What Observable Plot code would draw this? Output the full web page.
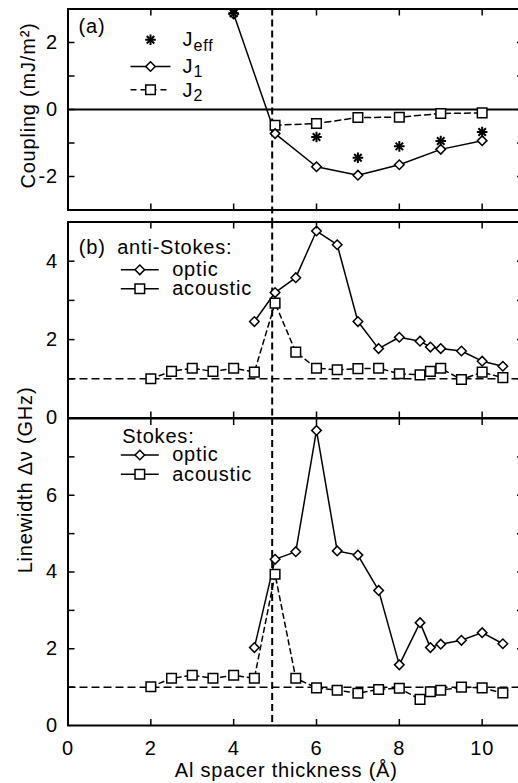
<!DOCTYPE html>
<html><head><meta charset="utf-8">
<script src="https://cdn.jsdelivr.net/npm/d3@7"></script>
<script src="https://cdn.jsdelivr.net/npm/@observablehq/plot@0.6"></script>
<style>
html,body{margin:0;padding:0;background:#fff;}
#chart{position:relative;width:518px;height:783px;overflow:hidden;background:#fff;}
#chart svg{position:absolute;left:0;overflow:visible;}
#chart svg text{letter-spacing:0.8px;}
</style></head><body><div id="chart"></div>
<script>
// ---------- data ----------
const X_DOMAIN = [0, 10.95];
const X_TICKS = [2, 4, 6, 8, 10];
const X_LABELS = [0, 2, 4, 6, 8, 10];
const V_LINE = [4.93];
const REF_LINE = [1];

// (a) coupling
const A_X_J1 = [4, 5, 6, 7, 8, 9, 10];
const A_J1 = [2.85, -0.72, -1.71, -1.96, -1.65, -1.19, -0.93];
const A_X_J2 = [5, 6, 7, 8, 9, 10];
const A_J2 = [-0.47, -0.42, -0.24, -0.23, -0.12, -0.10];
const A_X_JEFF = [4, 6, 7, 8, 9, 10];
const A_JEFF = [2.87, -0.82, -1.44, -1.10, -0.94, -0.67];
const A_Y_DOMAIN = [-3, 3];
const A_Y_TICKS = [-2, -1, 0, 1, 2];
const A_Y_LABELS = [-2, 0, 2];

// (b) anti-Stokes
const B_X_OPTIC = [4.5, 5, 5.5, 6, 6.5, 7, 7.5, 8, 8.5, 8.75, 9, 9.5, 10, 10.5];
const B_OPTIC = [2.46, 3.20, 3.58, 4.77, 4.42, 2.46, 1.77, 2.06, 1.96, 1.81, 1.77, 1.71, 1.45, 1.32];
const B_X_ACOUSTIC = [2, 2.5, 3, 3.5, 4, 4.5, 5, 5.5, 6, 6.5, 7, 7.5, 8, 8.5, 8.75, 9, 9.5, 10, 10.5];
const B_ACOUSTIC = [1.00, 1.19, 1.27, 1.19, 1.27, 1.17, 2.93, 1.68, 1.27, 1.23, 1.26, 1.27, 1.13, 1.10, 1.19, 1.27, 0.98, 1.17, 1.03];
const B_Y_DOMAIN = [0, 5];
const B_Y_TICKS = [1, 2, 3, 4];
const B_Y_LABELS = [0, 2, 4];

// (b) Stokes
const C_X_OPTIC = [4.5, 5, 5.5, 6, 6.5, 7, 7.5, 8, 8.5, 8.75, 9, 9.5, 10, 10.5];
const C_OPTIC = [2.03, 4.33, 4.53, 7.69, 4.55, 4.44, 3.52, 1.58, 2.68, 2.03, 2.12, 2.22, 2.42, 2.13];
const C_X_ACOUSTIC = [2, 2.5, 3, 3.5, 4, 4.5, 5, 5.5, 6, 6.5, 7, 7.5, 8, 8.5, 8.75, 9, 9.5, 10, 10.5];
const C_ACOUSTIC = [1.01, 1.23, 1.31, 1.23, 1.31, 1.23, 3.94, 1.23, 0.98, 0.92, 0.84, 0.94, 0.97, 0.68, 0.88, 0.92, 1.00, 0.98, 0.85];
const C_Y_DOMAIN = [0, 8];
const C_Y_TICKS = [1, 2, 3, 4, 5, 6, 7];
const C_Y_LABELS = [0, 2, 4, 6];

const X_TITLE = "Al spacer thickness (Å)";
const A_Y_TITLE = "Coupling (mJ/m²)";
const BC_Y_TITLE = "Linewidth Δν (GHz)";

// ---------- helpers ----------
const FONT = "'Liberation Sans', Arial, Helvetica, sans-serif";
const W = 521, ML = 67.5;
const rows = (xs, ys) => xs.map((x, i) => ({x, y: ys[i]}));
const hline = {draw(ctx, size) { const r = Math.sqrt(size / Math.PI); ctx.moveTo(-r, 0); ctx.lineTo(r, 0); }};
const DIAMOND = {symbol: "diamond2", r: 4.3, fill: "white", stroke: "black", strokeWidth: 1.5};
const SQUARE = {symbol: "square", r: 5.4, fill: "white", stroke: "black", strokeWidth: 1.5};

function axes(yTicks, yLabels) {
  return [
    Plot.axisY(yTicks, {anchor: "left", tickSize: -7, tickFormat: () => "", label: null, strokeWidth: 1.5}),
    Plot.axisY(yTicks, {anchor: "right", tickSize: -5, tickFormat: () => "", label: null, strokeWidth: 1.5}),
    Plot.axisY(yLabels, {anchor: "left", tickSize: 0, tickPadding: 10, tickFormat: d => String(d), label: null, fontSize: 20}),
    Plot.axisX(X_TICKS, {anchor: "top", tickSize: -6, tickFormat: () => "", label: null, strokeWidth: 1.5}),
    Plot.axisX(X_TICKS, {anchor: "bottom", tickSize: -6, tickFormat: () => "", label: null, strokeWidth: 1.5}),
    Plot.frame({strokeWidth: 2})
  ];
}
function ltext(str, dx, dy, extra = {}) {
  return Plot.text([str], {frameAnchor: "top-left", dx, dy, textAnchor: "start", lineAnchor: "middle", fontSize: 20, ...extra});
}
function lsym(opts, dx, dy) {
  return Plot.dot([0], {frameAnchor: "top-left", dx, dy, ...opts});
}
function legendRow(kind, dashed, label, dy) {
  return [
    lsym({symbol: hline, r: 19, fill: "none", stroke: "black", strokeWidth: 1.5, strokeDasharray: dashed ? "5,4" : null}, 71.8, dy),
    lsym(kind, 71.8, dy),
    ltext(label, 104.2, dy)
  ];
}
function base(height, mt, mb, ydom, marks) {
  return Plot.plot({
    width: W, height, marginLeft: ML, marginRight: 0, marginTop: mt, marginBottom: mb,
    x: {domain: X_DOMAIN, axis: null},
    y: {domain: ydom, axis: null},
    style: {fontFamily: FONT, fontSize: "20px", background: "transparent", overflow: "visible", maxWidth: "none", color: "black"},
    marks
  });
}

// ---------- panel (a) ----------
const J1 = rows(A_X_J1, A_J1), J2 = rows(A_X_J2, A_J2), JE = rows(A_X_JEFF, A_JEFF);
const pa = base(212, 8.5, 2.5, A_Y_DOMAIN, [
  Plot.ruleY([0], {strokeWidth: 2}),
  Plot.ruleX(V_LINE, {stroke: "black", strokeWidth: 2, strokeDasharray: "7,4", insetBottom: -12}),
  Plot.line(J2, {x: "x", y: "y", strokeWidth: 1.5, strokeDasharray: "6,4"}),
  Plot.line(J1, {x: "x", y: "y", strokeWidth: 1.5}),
  Plot.dot(J2, {x: "x", y: "y", ...SQUARE}),
  Plot.dot(J1, {x: "x", y: "y", ...DIAMOND}),
  Plot.dot(JE, {x: "x", y: "y", symbol: "plus", r: 3.5, stroke: "black", strokeWidth: 2}),
  Plot.dot(JE, {x: "x", y: "y", symbol: "times", r: 3.5, stroke: "black", strokeWidth: 2}),
  ...axes(A_Y_TICKS, A_Y_LABELS),
  Plot.text([A_Y_TITLE], {frameAnchor: "left", rotate: -90, textAnchor: "middle", lineAnchor: "top", dx: -47.5, dy: -4, fontSize: 20}),
  ltext("(a)", 10.5, 17.5),
  lsym({symbol: "plus", r: 3.5, stroke: "black", strokeWidth: 2}, 82.5, 30.8),
  lsym({symbol: "times", r: 3.5, stroke: "black", strokeWidth: 2}, 82.5, 30.8),
  ltext("J", 114.5, 30.8),
  ltext("eff", 125.5, 42.2, {lineAnchor: "bottom", fontSize: 16}),
  lsym({symbol: hline, r: 20, fill: "none", stroke: "black", strokeWidth: 1.5}, 82.5, 57.5),
  lsym(DIAMOND, 82.5, 57.5),
  ltext("J", 114.5, 58),
  ltext("1", 125.5, 68.4, {lineAnchor: "bottom", fontSize: 16}),
  lsym({symbol: hline, r: 20, fill: "none", stroke: "black", strokeWidth: 1.5, strokeDasharray: "6,4"}, 82.5, 80.8),
  lsym(SQUARE, 82.5, 80.8),
  ltext("J", 114.5, 81.5),
  ltext("2", 125.5, 91.9, {lineAnchor: "bottom", fontSize: 16})
]);

// ---------- panel (b) anti-Stokes ----------
const BO = rows(B_X_OPTIC, B_OPTIC), BA = rows(B_X_ACOUSTIC, B_ACOUSTIC);
const pb = base(205.5, 9.5, 0, B_Y_DOMAIN, [
  Plot.ruleY(REF_LINE, {strokeWidth: 1.5, strokeDasharray: "8,4"}),
  Plot.ruleX(V_LINE, {stroke: "black", strokeWidth: 2, strokeDasharray: "7,4"}),
  Plot.line(BA, {x: "x", y: "y", strokeWidth: 1.5, strokeDasharray: "5,4"}),
  Plot.line(BO, {x: "x", y: "y", strokeWidth: 1.5}),
  Plot.dot(BA, {x: "x", y: "y", ...SQUARE}),
  Plot.dot(BO, {x: "x", y: "y", ...DIAMOND}),
  ...axes(B_Y_TICKS, B_Y_LABELS),
  ltext("(b)", 10.8, 25.8),
  ltext("anti-Stokes:", 49.2, 25.8),
  ...legendRow(DIAMOND, false, "optic", 47.8),
  ...legendRow(SQUARE, false, "acoustic", 66.8)
]);

// ---------- panel (b) Stokes ----------
const CO = rows(C_X_OPTIC, C_OPTIC), CA = rows(C_X_ACOUSTIC, C_ACOUSTIC);
const pc = base(365.5, 0, 58.5, C_Y_DOMAIN, [
  Plot.ruleY(REF_LINE, {strokeWidth: 1.5, strokeDasharray: "8,4"}),
  Plot.ruleX(V_LINE, {stroke: "black", strokeWidth: 2, strokeDasharray: "7,4"}),
  Plot.line(CA, {x: "x", y: "y", strokeWidth: 1.5, strokeDasharray: "5,4"}),
  Plot.line(CO, {x: "x", y: "y", strokeWidth: 1.5}),
  Plot.dot(CA, {x: "x", y: "y", ...SQUARE}),
  Plot.dot(CO, {x: "x", y: "y", ...DIAMOND}),
  ...axes(C_Y_TICKS, C_Y_LABELS),
  Plot.axisX(X_LABELS, {anchor: "bottom", tickSize: 0, tickPadding: 15.5, tickFormat: d => String(d), label: null, fontSize: 20}),
  Plot.text([X_TITLE], {frameAnchor: "bottom", lineAnchor: "bottom", dx: -8.5, dy: 51.5, fontSize: 20}),
  Plot.text([BC_Y_TITLE], {frameAnchor: "top-left", rotate: -90, textAnchor: "middle", lineAnchor: "top", dx: -50, dy: 61.5, fontSize: 20}),
  ltext("Stokes:", 54.2, 17.7),
  ...legendRow(DIAMOND, false, "optic", 36.5),
  ...legendRow(SQUARE, false, "acoustic", 55.8)
]);

const chart = document.getElementById("chart");
[[pa, 0], [pb, 212], [pc, 417.5]].forEach(([svg, top]) => {
  svg.style.top = top + "px";
  chart.appendChild(svg);
});
</script></body></html>
